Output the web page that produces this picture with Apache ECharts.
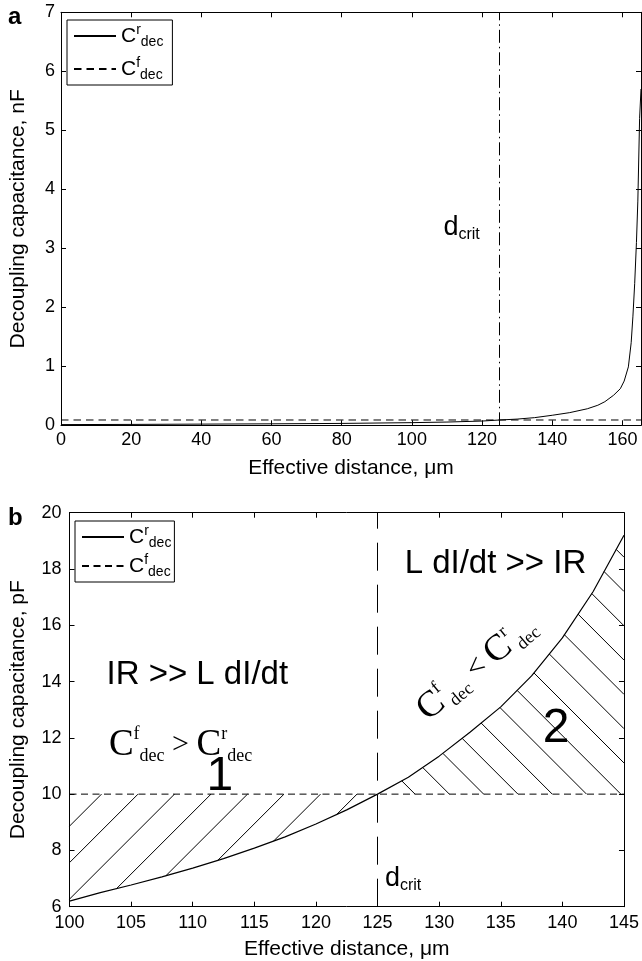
<!DOCTYPE html>
<html><head><meta charset="utf-8">
<script src="https://cdn.jsdelivr.net/npm/echarts@6/dist/echarts.min.js"></script>
<style>html,body{margin:0;padding:0;background:#fff}#c{width:642px;height:961px}</style>
</head><body><div id="c"></div>
<script>
// ---------- Panel a (nF) ----------
const distA = [0, 20, 40, 60, 80, 100, 110, 120, 125, 130, 135, 140, 145, 150, 153, 155, 157.5, 159.4, 160.5, 161.7, 162.5, 163, 163.5, 164, 164.4, 164.9, 165.3];
const capA_nF = [0.012, 0.015, 0.02, 0.025, 0.032, 0.045, 0.055, 0.072, 0.09, 0.105, 0.13, 0.17, 0.215, 0.28, 0.34, 0.4, 0.51, 0.62, 0.75, 0.99, 1.4, 1.85, 2.4, 3.1, 3.8, 5.2, 5.7];
const cfA_nF = 0.09;
const dcritA = 125;
const xTicksA = [0, 20, 40, 60, 80, 100, 120, 140, 160];
const yTicksA = [0, 1, 2, 3, 4, 5, 6, 7];
// ---------- Panel b (pF) ----------
const distB = [100, 102.5, 105, 107.5, 110, 112.5, 115, 117.5, 120, 122.5, 125, 127.5, 130, 132.5, 135, 137.5, 140, 142.5, 145];
const capB_pF = [6.2, 6.5, 6.77, 7.06, 7.37, 7.71, 8.08, 8.48, 8.94, 9.44, 10.0, 10.6, 11.35, 12.2, 13.1, 14.2, 15.55, 17.2, 19.2];
const cfB_pF = 10;
const dcritB = 125;
const xTicksB = [100, 105, 110, 115, 120, 125, 130, 135, 140, 145];
const yTicksB = [6, 8, 10, 12, 14, 16, 18, 20];

const SANS = 'Liberation Sans';
const SERIF = 'Liberation Serif';

function baseAxis(extra) {
  return Object.assign({
    type: 'value',
    axisLine: { show: true, onZero: false, lineStyle: { color: '#000', width: 1 } },
    axisTick: { show: true, inside: true, length: 5, lineStyle: { color: '#000', width: 1 } },
    splitLine: { show: false },
    axisLabel: { color: '#000', fontSize: 18, fontFamily: SANS },
    nameTextStyle: { color: '#000', fontSize: 21, fontFamily: SANS }
  }, extra);
}
function mirror(extra) {
  const a = baseAxis(extra);
  a.axisLabel = { show: false };
  return a;
}

const legendRich = {
  c: { fontSize: 21, fontFamily: SANS, color: '#000', lineHeight: 26 },
  sup: { fontSize: 14, fontFamily: SANS, color: '#000', verticalAlign: 'top', lineHeight: 14 },
  sub: { fontSize: 14, fontFamily: SANS, color: '#000', verticalAlign: 'bottom', lineHeight: 14 }
};
function legendFmt(name) {
  return name.indexOf('Cr') === 0 ? '{c|C}{sup|r}{sub|dec}' : '{c|C}{sup|f}{sub|dec}';
}
function makeLegend(names, left, top, gap, padR) {
  return {
    data: names, left: left, top: top, orient: 'vertical',
    borderColor: '#000', borderWidth: 1, borderRadius: 0, backgroundColor: '#fff',
    padding: [3, padR, 3, 6], itemGap: gap, itemWidth: 42, itemHeight: 14,
    selectedMode: false, formatter: legendFmt,
    itemStyle: { opacity: 0 },
    textStyle: { rich: legendRich }
  };
}

function hatchRender(params, api) {
  const pts = distB.map((d, i) => api.coord([d, capB_pF[i]]));
  const pL = api.coord([xTicksB[0], cfB_pF]);
  const pR = api.coord([xTicksB[xTicksB.length - 1], cfB_pF]);
  const pC = api.coord([dcritB, cfB_pF]);
  const y10 = pL[1], xL = pL[0], xR = pR[0], xC = pC[0];
  function curveY(X) {
    for (let i = 0; i < pts.length - 1; i++) {
      if (X <= pts[i + 1][0]) {
        const t = (X - pts[i][0]) / (pts[i + 1][0] - pts[i][0]);
        return pts[i][1] + t * (pts[i + 1][1] - pts[i][1]);
      }
    }
    return pts[pts.length - 1][1];
  }
  function solve(f, a, b) {
    let fa = f(a);
    for (let k = 0; k < 60; k++) {
      const m = (a + b) / 2, fm = f(m);
      if ((fm > 0) === (fa > 0)) { a = m; fa = fm; } else { b = m; }
    }
    return (a + b) / 2;
  }
  const style = { stroke: '#000', lineWidth: 1, fill: null };
  const children = [];
  // region 2 : "\" hatch
  const lim = xR + (y10 - curveY(xR));
  for (let X0 = xC + 37.5; X0 < lim; X0 += 34.3) {
    const c = y10 - X0;
    let x2, y2;
    if (X0 <= xR) { x2 = X0; y2 = y10; } else { x2 = xR; y2 = xR + c; }
    const g = X => curveY(X) - (X + c);
    const x1 = solve(g, xC, x2);
    children.push({ type: 'line', shape: { x1: x1, y1: x1 + c, x2: x2, y2: y2 }, style: style });
  }
  // region 1 : "/" hatch
  for (let X1 = xL + 32; X1 < xC - 4; X1 += 36.5) {
    const c = y10 + X1;
    const h = X => curveY(X) + X - c;
    let x0;
    if (h(xL) > 0) { x0 = xL; } else { x0 = solve(h, xL, X1); }
    children.push({ type: 'line', shape: { x1: x0, y1: c - x0, x2: X1, y2: y10 }, style: style });
  }
  return { type: 'group', children: children };
}

const option = {
  animation: false,
  backgroundColor: '#fff',
  grid: [
    { left: 56.7, top: 12.3, width: 584.3, height: 413 },
    { left: 65, top: 512.7, width: 562.7, height: 394 }
  ],
  xAxis: [
    baseAxis({ gridIndex: 0, position: 'bottom', min: xTicksA[0], max: 165.3, interval: 20,
      name: 'Effective distance, μm', nameLocation: 'middle', nameGap: 32,
      axisLabel: { color: '#000', fontSize: 18, fontFamily: SANS, margin: 6, showMaxLabel: false } }),
    mirror({ gridIndex: 0, position: 'top', min: xTicksA[0], max: 165.3, interval: 20 }),
    baseAxis({ gridIndex: 1, position: 'bottom', min: xTicksB[0], max: xTicksB[xTicksB.length - 1], interval: 5,
      name: 'Effective distance, μm', nameLocation: 'middle', nameGap: 32,
      axisLabel: { color: '#000', fontSize: 18, fontFamily: SANS, margin: 7 } }),
    mirror({ gridIndex: 1, position: 'top', min: xTicksB[0], max: xTicksB[xTicksB.length - 1], interval: 5 })
  ],
  yAxis: [
    baseAxis({ gridIndex: 0, position: 'left', min: yTicksA[0], max: yTicksA[yTicksA.length - 1], interval: 1,
      name: 'Decoupling capacitance, nF', nameLocation: 'middle', nameGap: 32,
      axisLabel: { color: '#000', fontSize: 18, fontFamily: SANS, margin: 6 } }),
    mirror({ gridIndex: 0, position: 'right', min: yTicksA[0], max: yTicksA[yTicksA.length - 1], interval: 1 }),
    baseAxis({ gridIndex: 1, position: 'left', min: yTicksB[0], max: yTicksB[yTicksB.length - 1], interval: 2,
      name: 'Decoupling capacitance, pF', nameLocation: 'middle', nameGap: 40.5,
      axisLabel: { color: '#000', fontSize: 18, fontFamily: SANS, margin: 8 } }),
    mirror({ gridIndex: 1, position: 'right', min: yTicksB[0], max: yTicksB[yTicksB.length - 1], interval: 2 })
  ],
  legend: [
    makeLegend(['Cr a', 'Cf a'], 67, 20, 7, 9),
    makeLegend(['Cr b', 'Cf b'], 75, 521, 3, 3)
  ],
  series: [
    { name: 'Cr a', type: 'line', xAxisIndex: 0, yAxisIndex: 0, showSymbol: false, symbol: 'none',
      lineStyle: { color: '#000', width: 1 }, itemStyle: { color: '#000' },
      data: distA.map((d, i) => [d, capA_nF[i]]) },
    { name: 'Cf a', type: 'line', xAxisIndex: 0, yAxisIndex: 0, showSymbol: false, symbol: 'none',
      lineStyle: { color: '#000', width: 1, type: [7.5, 5] }, itemStyle: { color: '#000' },
      data: [[xTicksA[0], cfA_nF], [165.3, cfA_nF]],
      markLine: { silent: true, symbol: 'none', label: { show: false },
        lineStyle: { color: '#000', width: 1, type: [13, 4, 1.5, 4] },
        data: [{ xAxis: dcritA }] } },
    { name: 'Cr b', type: 'line', xAxisIndex: 2, yAxisIndex: 2, showSymbol: false, symbol: 'none',
      lineStyle: { color: '#000', width: 1.2 }, itemStyle: { color: '#000' },
      data: distB.map((d, i) => [d, capB_pF[i]]) },
    { name: 'Cf b', type: 'line', xAxisIndex: 2, yAxisIndex: 2, showSymbol: false, symbol: 'none',
      lineStyle: { color: '#000', width: 1, type: [7, 4.5] }, itemStyle: { color: '#000' },
      data: [[xTicksB[0], cfB_pF], [xTicksB[xTicksB.length - 1], cfB_pF]],
      markLine: { silent: true, symbol: 'none', label: { show: false },
        lineStyle: { color: '#000', width: 1, type: [28, 14] },
        data: [{ xAxis: dcritB }] } },
    { type: 'custom', xAxisIndex: 2, yAxisIndex: 2, silent: true, data: [0], renderItem: hatchRender, z: 1 }
  ]
};

const chart = echarts.init(document.getElementById('c'), null, { renderer: 'canvas', width: 642, height: 961 });
chart.setOption(option);

const PA = pt => chart.convertToPixel({ xAxisIndex: 0, yAxisIndex: 0 }, pt);
const PB = pt => chart.convertToPixel({ xAxisIndex: 2, yAxisIndex: 2 }, pt);

const serifRich = {
  C: { fontSize: 37, fontFamily: SERIF, color: '#000', lineHeight: 40 },
  sup: { fontSize: 18, fontFamily: SERIF, color: '#000', verticalAlign: 'top', lineHeight: 18 },
  sub: { fontSize: 18, fontFamily: SERIF, color: '#000', verticalAlign: 'bottom', lineHeight: 16 },
  op: { fontSize: 30, fontFamily: SERIF, color: '#000', lineHeight: 40 }
};
const dRich = {
  d: { fontSize: 27, fontFamily: SANS, color: '#000', lineHeight: 30 },
  s: { fontSize: 16, fontFamily: SANS, color: '#000', verticalAlign: 'bottom', lineHeight: 14 }
};
function txt(p, text, extra) {
  return { type: 'text', x: p[0], y: p[1], silent: true, z: 100,
    style: Object.assign({ text: text, fill: '#000', fontFamily: SANS, align: 'left', verticalAlign: 'middle' }, extra) };
}

const pa = PA([109, 3.35]);
const pb1 = PB([125.6, 7.0]);
const pL = PB([127.2, 18.18]);
const pI = PB([103.0, 14.23]);
const pCgt = PB([103.2, 11.74]);
const pRot = PB([133.04, 14.48]);
const p1 = PB([112.2, 10.6]);
const p2 = PB([139.5, 12.33]);

chart.setOption({
  graphic: [
    txt([8, 17], 'a', { fontSize: 24, fontWeight: 'bold' }),
    txt([8, 518], 'b', { fontSize: 24, fontWeight: 'bold' }),
    txt(pa, '{d|d}{s|crit}', { rich: dRich }),
    txt(pb1, '{d|d}{s|crit}', { rich: dRich }),
    txt(pL, 'L dI/dt >> IR', { fontSize: 33 }),
    txt(pI, 'IR >> L dI/dt', { fontSize: 33 }),
    txt(pCgt, '{C|C}{sup|f}{sub|dec}{op| > }{C|C}{sup|r}{sub|dec}', { rich: serifRich }),
    { type: 'text', x: pRot[0], y: pRot[1], rotation: 40 * Math.PI / 180, silent: true, z: 100,
      style: { text: '{C|C}{sup|f}{sub|dec}{op| < }{C|C}{sup|r}{sub|dec}', rich: serifRich,
        align: 'center', verticalAlign: 'middle', fill: '#000' } },
    txt(p1, '1', { fontSize: 48, align: 'center' }),
    txt(p2, '2', { fontSize: 48, align: 'center' })
  ]
});
</script>
</body></html>
